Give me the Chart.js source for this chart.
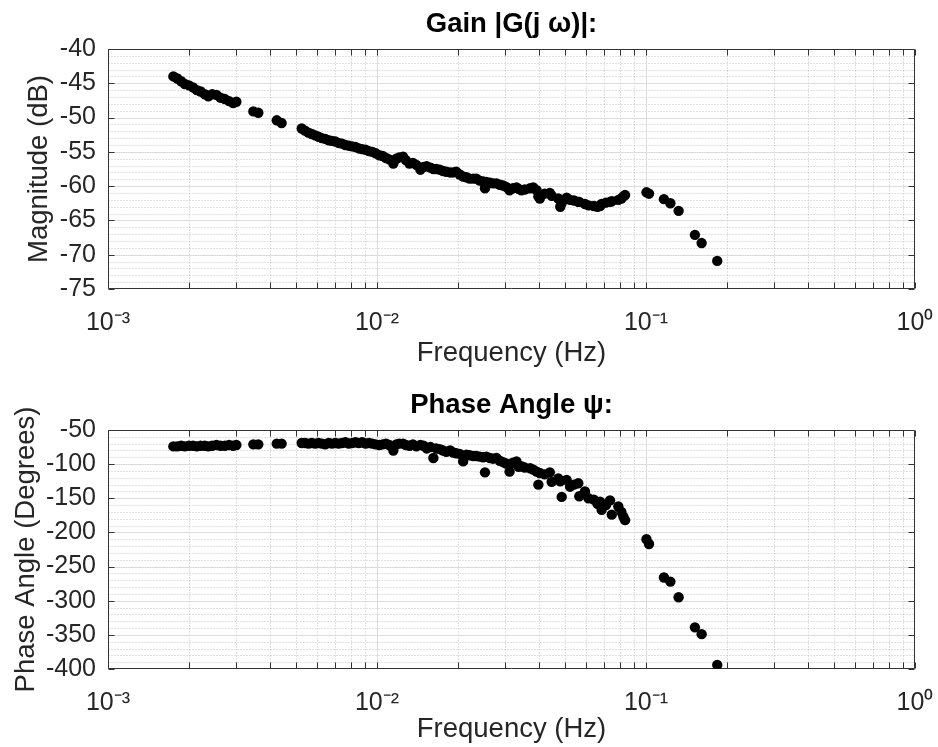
<!DOCTYPE html>
<html><head><meta charset="utf-8">
<script src="https://cdn.jsdelivr.net/npm/chart.js@4/dist/chart.umd.min.js"></script>
<style>
html,body{margin:0;padding:0;background:#fff;}
#wrap{position:relative;width:938px;height:747px;background:#fff;}
.box{position:absolute;left:0;width:938px;}
</style></head><body>
<div id="wrap">
<div class="box" style="top:0;height:373px"><canvas id="c1"></canvas></div>
<div class="box" style="top:373px;height:374px"><canvas id="c2"></canvas></div>
</div>
<script>
// ---- data ----
const frequencyHz = [
  0.00175,0.00181,0.00187,0.00193,0.00200,0.00207,0.00214,0.00221,0.00229,0.00236,
  0.00244,0.00253,0.00262,0.00272,0.00282,0.00292,0.00300,0.00347,0.00362,0.00424,0.00442,
  0.00525,0.00540,0.00556,0.00572,0.00589,0.00606,0.00624,0.00642,0.00661,0.00680,
  0.00700,0.00720,0.00741,0.00763,0.00785,0.00808,0.00832,0.00856,0.00881,0.00907,
  0.00933,0.00960,0.00988,0.0102,0.0105,0.0108,0.0111,0.0115,0.0118,0.0121,
  0.0125,0.0128,0.0132,0.0136,0.0140,0.0145,0.0149,0.0153,0.0158,0.0162,
  0.0166,0.0171,0.0176,0.0181,0.0187,0.0192,0.0197,0.0203,0.0209,0.0215,
  0.0221,0.0228,0.0234,0.0241,0.0248,0.0252,0.0255,0.0263,0.0270,0.0278,
  0.0286,0.0294,0.0302,0.0311,0.0320,0.0330,0.0336,0.0344,0.0354,0.0371,
  0.0381,0.0392,0.0398,0.0403,0.0420,0.0439,0.0446,0.0472,0.0480,0.0486,
  0.0507,0.0522,0.0540,0.0560,0.0565,0.0593,0.0611,0.0640,0.0660,0.0675,
  0.0684,0.0710,0.0735,0.0746,0.0789,0.0810,0.0824,0.0836,
  0.1004,0.1026,0.1166,0.1232,0.1322,0.152,0.161,0.184
];
const magnitudeDb = [
  -44.0,-44.3,-44.7,-45.1,-45.3,-45.6,-46.0,-46.2,-46.6,-46.9,
  -46.6,-46.7,-47.1,-47.3,-47.6,-47.9,-47.7,-49.1,-49.3,-50.4,-50.8,
  -51.6,-51.9,-52.2,-52.4,-52.6,-52.8,-53.0,-53.1,-53.3,-53.4,
  -53.5,-53.7,-53.8,-54.0,-54.1,-54.2,-54.3,-54.5,-54.6,-54.7,
  -54.9,-55.0,-55.2,-55.5,-55.6,-55.9,-56.1,-56.7,-56.0,-55.8,
  -55.7,-56.2,-56.7,-56.6,-56.9,-57.6,-57.2,-57.1,-57.3,-57.5,
  -57.5,-57.6,-57.8,-57.9,-58.0,-58.0,-57.9,-58.3,-58.6,-58.7,
  -58.9,-58.9,-58.9,-59.2,-59.3,-60.3,-59.4,-59.5,-59.6,-59.6,
  -59.8,-59.9,-60.1,-60.6,-60.3,-60.2,-60.4,-60.6,-60.5,-60.3,
  -60.2,-60.6,-61.5,-61.8,-61.1,-61.0,-61.4,-61.8,-63.0,-62.5,
  -61.7,-62.0,-62.1,-62.3,-62.3,-62.6,-62.8,-62.9,-63.0,-62.9,
  -62.6,-62.4,-62.3,-62.2,-62.0,-61.8,-61.5,-61.3,
  -60.9,-61.1,-61.9,-62.5,-63.6,-67.1,-68.3,-70.9
];
const phaseDeg = [
  -74,-74,-73,-74,-73,-73,-74,-73,-73,-74,
  -73,-72,-73,-73,-72,-73,-72,-71,-71,-70,-70,
  -69,-69,-70,-69,-70,-69,-70,-71,-69,-70,
  -69,-70,-69,-68,-70,-69,-68,-69,-68,-70,
  -69,-70,-71,-72,-71,-70,-72,-80,-71,-70,
  -70,-72,-73,-71,-74,-72,-73,-77,-75,-91,
  -77,-78,-80,-82,-80,-83,-84,-85,-96,-86,
  -87,-88,-88,-89,-90,-112,-89,-91,-92,-91,
  -95,-97,-99,-111,-98,-96,-104,-103,-105,-106,
  -108,-111,-130,-113,-115,-112,-126,-121,-125,-148,
  -123,-133,-130,-128,-147,-140,-150,-152,-158,-155,
  -167,-160,-153,-174,-162,-170,-177,-182,
  -210,-217,-266,-272,-295,-339,-349,-394
];
const xDecades = [0.001, 0.01, 0.1, 1];
const xDecadeLabels = ['10\u207B\u00B3', '10\u207B\u00B2', '10\u207B\u00B9', '10\u2070'];
const magAxis = { min: -75, max: -40, step: 5, minor: 1 };
const phaseAxis = { min: -400, max: -50, step: 50, minor: 10 };
const titles = ['Gain |G(j \u03C9)|:', 'Phase Angle \u03C8:'];
const yLabels = ['Magnitude (dB)', 'Phase Angle (Degrees)'];
const xLabel = 'Frequency (Hz)';

// ---- style / helpers ----
const FONT = "'Liberation Sans', Arial, Helvetica, sans-serif";
const AXIS_COLOR = '#333333';
Chart.defaults.font.family = FONT;
Chart.defaults.color = '#262626';

const matlabAxes = {
  id: 'matlabAxes',
  beforeDatasetsDraw(chart, args, opts) {
    const { ctx, chartArea: a, scales: { x, y } } = chart;
    const L = Math.round(a.left) + 0.5, R = Math.round(a.right) - 0.5;
    const T = Math.round(a.top) + 0.5, B = Math.round(a.bottom) - 0.5;
    ctx.save();
    ctx.lineWidth = 1;
    // minor grid (dotted)
    ctx.strokeStyle = 'rgba(26,26,26,0.26)';
    ctx.setLineDash([1, 2]);
    ctx.beginPath();
    for (let v = opts.min; v <= opts.max + 1e-9; v += opts.minor) {
      if (Math.abs(v % opts.step) < 1e-9) continue;
      const py = Math.round(y.getPixelForValue(v)) + 0.5;
      ctx.moveTo(L, py); ctx.lineTo(R, py);
    }
    const xMinor = [];
    for (let d = 0; d < xDecades.length - 1; d++) {
      for (let m = 2; m <= 9; m++) xMinor.push(xDecades[d] * m);
    }
    xMinor.forEach(v => {
      const px = Math.round(x.getPixelForValue(v)) + 0.5;
      ctx.moveTo(px, T); ctx.lineTo(px, B);
    });
    ctx.stroke();
    // major grid (solid, light)
    ctx.setLineDash([]);
    ctx.strokeStyle = '#dcdcdc';
    ctx.beginPath();
    for (let v = opts.min + opts.step; v < opts.max; v += opts.step) {
      const py = Math.round(y.getPixelForValue(v)) + 0.5;
      ctx.moveTo(L, py); ctx.lineTo(R, py);
    }
    xDecades.slice(1, -1).forEach(v => {
      const px = Math.round(x.getPixelForValue(v)) + 0.5;
      ctx.moveTo(px, T); ctx.lineTo(px, B);
    });
    ctx.stroke();
    // box + inward ticks
    ctx.strokeStyle = AXIS_COLOR;
    ctx.beginPath();
    ctx.rect(L, T, R - L, B - T);
    const tl = 6;
    xMinor.concat(xDecades).forEach(v => {
      const px = Math.round(x.getPixelForValue(v)) + 0.5;
      ctx.moveTo(px, B); ctx.lineTo(px, B - tl);
      ctx.moveTo(px, T); ctx.lineTo(px, T + tl);
    });
    for (let v = opts.min; v <= opts.max; v += opts.step) {
      const py = Math.round(y.getPixelForValue(v)) + 0.5;
      ctx.moveTo(L, py); ctx.lineTo(L + tl, py);
      ctx.moveTo(R, py); ctx.lineTo(R - tl, py);
    }
    ctx.stroke();
    ctx.restore();
  },
  afterDraw(chart, args, opts) {
    const { ctx, chartArea: a } = chart;
    ctx.save();
    ctx.font = 'bold 27.5px ' + FONT;
    ctx.fillStyle = '#000';
    ctx.textAlign = 'center';
    ctx.textBaseline = 'alphabetic';
    ctx.fillText(opts.title, (a.left + a.right) / 2, opts.titleBaseline);
    ctx.restore();
  }
};

function makeChart(id, yVals, axis, idx, cfg) {
  const points = frequencyHz.map((f, i) => ({ x: f, y: yVals[i] }));
  return new Chart(document.getElementById(id), {
    type: 'scatter',
    data: { datasets: [{ data: points, backgroundColor: '#000', borderColor: '#000',
      pointRadius: 5.2, pointHoverRadius: 5.2, borderWidth: 0 }] },
    options: {
      responsive: true, maintainAspectRatio: false, animation: false,
      devicePixelRatio: 1,
      layout: { padding: { top: cfg.top, right: 23, left: 0, bottom: 0 } },
      plugins: { legend: { display: false }, tooltip: { enabled: false },
        matlabAxes: { min: axis.min, max: axis.max, step: axis.step, minor: axis.minor,
          title: titles[idx], titleBaseline: cfg.titleBaseline } },
      scales: {
        x: {
          type: 'logarithmic', min: xDecades[0], max: xDecades[xDecades.length - 1],
          grid: { display: false }, border: { display: false },
          afterBuildTicks: s => { s.ticks = xDecades.map(v => ({ value: v, major: true })); },
          afterFit: s => { s.height = cfg.xHeight; s.paddingLeft = 0; s.paddingRight = 0; },
          ticks: {
            autoSkip: false, maxRotation: 0, minRotation: 0, padding: cfg.xTickPad,
            font: { size: 25 }, color: '#262626',
            callback: v => { const k = xDecades.indexOf(v); return k >= 0 ? xDecadeLabels[k] : ''; }
          },
          title: { display: true, text: xLabel, font: { size: 27.5 }, color: '#262626',
            padding: { top: 0, bottom: cfg.xTitlePad } }
        },
        y: {
          min: axis.min, max: axis.max,
          grid: { display: false }, border: { display: false },
          afterFit: s => { s.width = 108; s.paddingTop = 0; s.paddingBottom = 0; },
          ticks: { stepSize: axis.step, padding: 4, font: { size: 25 }, color: '#262626' },
          title: { display: true, text: yLabels[idx], font: { size: 27.5 }, color: '#262626',
            padding: { top: cfg.yTitlePad, bottom: 0 } }
        }
      }
    },
    plugins: [matlabAxes]
  });
}

makeChart('c1', magnitudeDb, magAxis, 0,
  { top: 49, xHeight: 84, xTickPad: 11, xTitlePad: 3, yTitlePad: 23, titleBaseline: 32 });
makeChart('c2', phaseDeg, phaseAxis, 1,
  { top: 57, xHeight: 78, xTickPad: 11, xTitlePad: 1, yTitlePad: 10, titleBaseline: 40 });
</script>
</body></html>
